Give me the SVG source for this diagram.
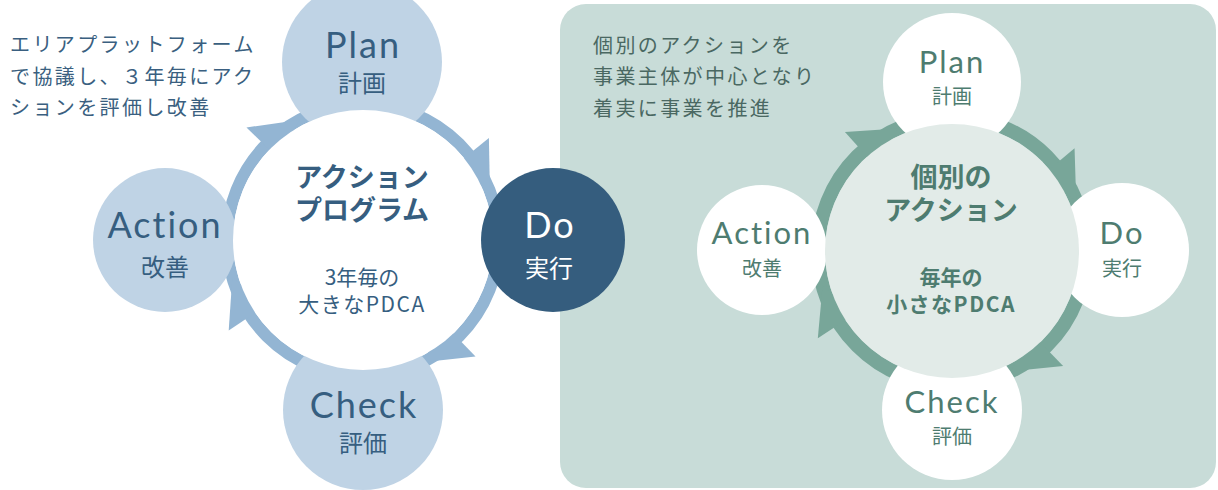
<svg xmlns="http://www.w3.org/2000/svg" xmlns:xlink="http://www.w3.org/1999/xlink" width="1218" height="490" viewBox="0 0 1218 490">
<style>
.jp{font-family:"Noto Sans CJK JP","Noto Sans",sans-serif}
.lat{font-family:"Lato","Noto Sans",sans-serif;letter-spacing:2px}
.lb{fill:#365e80}
.gr{fill:#4e7c70}
.desc{font-size:20px;letter-spacing:2.4px}
</style>
<defs>
<polygon id="headL" points="116,0 162,0 129.3,42"/>
<polygon id="headR" points="114,0 160,0 127.4,41.4"/>
</defs>
<rect x="0" y="0" width="1218" height="490" fill="#ffffff"/>
<rect id="panel" x="560" y="4" width="656" height="484" rx="26" fill="#c8dcd8"/>

<g id="connectors-left" fill="#93b5d3">
<circle cx="363" cy="240" r="136" fill="none" stroke="#93b5d3" stroke-width="12"/>
<use xlink:href="#headL" transform="translate(363,240) rotate(-136)"/>
<use xlink:href="#headL" transform="translate(363,240) rotate(-39)"/>
<use xlink:href="#headL" transform="translate(363,240) rotate(46)"/>
<use xlink:href="#headL" transform="translate(363,240) rotate(146)"/>
</g>
<g id="connectors-right" fill="#78a699">
<circle cx="952" cy="251" r="134" fill="none" stroke="#78a699" stroke-width="14"/>
<use xlink:href="#headR" transform="translate(952,251) rotate(-132)"/>
<use xlink:href="#headR" transform="translate(952,251) rotate(-40)"/>
<use xlink:href="#headR" transform="translate(952,251) rotate(46)"/>
<use xlink:href="#headR" transform="translate(952,251) rotate(147)"/>
</g>

<g id="plan-left">
<circle cx="362" cy="62" r="80" fill="#bfd3e5"/>
<text class="lat lb" x="363" y="58" font-size="36" text-anchor="middle">Plan</text>
<text class="jp lb" x="362" y="92" font-size="24" text-anchor="middle">計画</text>
</g>
<g id="action-left">
<circle cx="165" cy="240" r="72" fill="#bfd3e5"/>
<text class="lat lb" x="165" y="238" font-size="36" text-anchor="middle">Action</text>
<text class="jp lb" x="165" y="276" font-size="24" text-anchor="middle">改善</text>
</g>
<g id="check-left">
<circle cx="363" cy="410" r="80" fill="#bfd3e5"/>
<text class="lat lb" x="364" y="418" font-size="36" text-anchor="middle">Check</text>
<text class="jp lb" x="363" y="452" font-size="24" text-anchor="middle">評価</text>
</g>
<g id="center-left">
<circle cx="363" cy="240" r="130" fill="#ffffff"/>
<text class="jp lb" x="362" y="187" font-size="27" font-weight="bold" text-anchor="middle">アクション</text>
<text class="jp lb" x="362" y="220" font-size="27" font-weight="bold" text-anchor="middle">プログラム</text>
<text class="jp lb" x="362" y="285" font-size="21" text-anchor="middle">3年毎の</text>
<text class="jp lb" x="362" y="312" font-size="21" text-anchor="middle" letter-spacing="1.5">大きなPDCA</text>
</g>
<g id="do-left">
<circle cx="553" cy="240" r="72" fill="#355d7e"/>
<text class="lat" x="550" y="238" font-size="36" fill="#ffffff" text-anchor="middle">Do</text>
<text class="jp" x="549" y="277" font-size="24" fill="#ffffff" text-anchor="middle">実行</text>
</g>

<g id="desc-left">
<text class="jp desc" x="10" y="52" fill="#3a5f80">エリアプラットフォーム</text>
<text class="jp desc" x="10" y="84" fill="#3a5f80">で協議し、３年毎にアク</text>
<text class="jp desc" x="10" y="115" fill="#3a5f80">ションを評価し改善</text>
</g>

<g id="plan-right">
<circle cx="952" cy="82" r="69" fill="#ffffff"/>
<text class="lat gr" x="952" y="73" font-size="31" text-anchor="middle" letter-spacing="1">Plan</text>
<text class="jp gr" x="952" y="104" font-size="20" text-anchor="middle">計画</text>
</g>
<g id="action-right">
<circle cx="762" cy="250" r="65" fill="#ffffff"/>
<text class="lat gr" x="762" y="244" font-size="31" text-anchor="middle" letter-spacing="1">Action</text>
<text class="jp gr" x="762" y="276" font-size="20" text-anchor="middle">改善</text>
</g>
<g id="do-right">
<circle cx="1122" cy="250" r="67" fill="#ffffff"/>
<text class="lat gr" x="1122" y="244" font-size="31" text-anchor="middle" letter-spacing="1">Do</text>
<text class="jp gr" x="1122" y="276" font-size="20" text-anchor="middle">実行</text>
</g>
<g id="check-right">
<circle cx="952" cy="410" r="70" fill="#ffffff"/>
<text class="lat gr" x="952" y="413" font-size="31" text-anchor="middle" letter-spacing="1.5">Check</text>
<text class="jp gr" x="952" y="444" font-size="20" text-anchor="middle">評価</text>
</g>
<g id="center-right">
<circle cx="952" cy="251" r="127" fill="#e2ebe8"/>
<text class="jp gr" x="951" y="187" font-size="27" font-weight="bold" text-anchor="middle">個別の</text>
<text class="jp gr" x="951" y="220" font-size="27" font-weight="bold" text-anchor="middle">アクション</text>
<text class="jp gr" x="951" y="285" font-size="21" font-weight="bold" text-anchor="middle">毎年の</text>
<text class="jp gr" x="951" y="312" font-size="21" font-weight="bold" text-anchor="middle" letter-spacing="1.5">小さなPDCA</text>
</g>

<g id="desc-right">
<text class="jp desc" x="593" y="53" fill="#4a6862">個別のアクションを</text>
<text class="jp desc" x="593" y="84" fill="#4a6862">事業主体が中心となり</text>
<text class="jp desc" x="593" y="116" fill="#4a6862">着実に事業を推進</text>
</g>
</svg>
